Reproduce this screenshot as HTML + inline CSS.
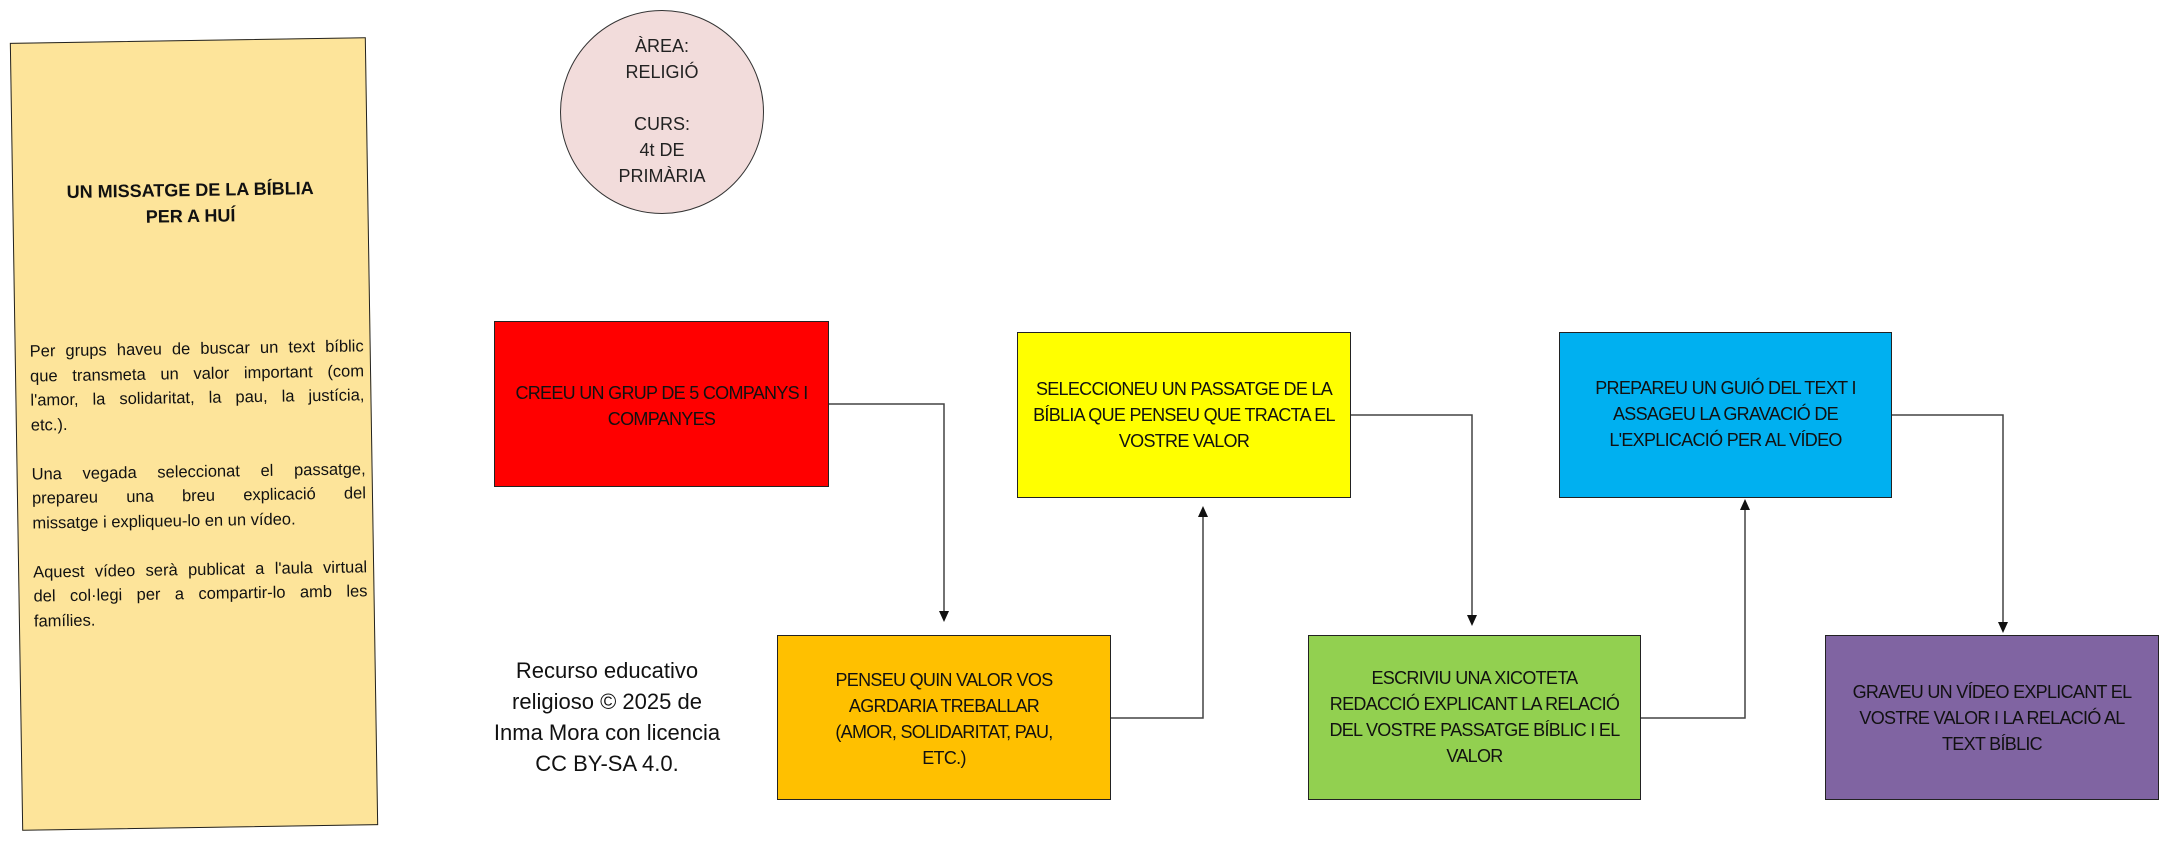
<!DOCTYPE html>
<html><head><meta charset="utf-8"><style>
body{margin:0;width:2168px;height:842px;background:#fff;position:relative;overflow:hidden;font-family:"Liberation Sans",sans-serif;}
.note{position:absolute;left:16px;top:40px;width:356px;height:788px;background:#fde49a;border:1.5px solid #222;transform:rotate(-0.9deg);box-sizing:border-box;}
.note .t{position:absolute;left:0;right:0;top:136px;text-align:center;font-weight:bold;font-size:18px;line-height:26px;color:#111;}
.note .b{position:absolute;left:14px;width:334px;font-size:16.5px;line-height:24.5px;color:#111;}
.j{text-align:justify;text-align-last:justify;white-space:nowrap;}
.circ{position:absolute;left:560px;top:10px;width:204px;height:204px;border-radius:50%;background:#f2dcdb;border:1.5px solid #333;box-sizing:border-box;text-align:center;font-size:18px;line-height:26px;color:#222;}
.box{position:absolute;box-sizing:border-box;border:1.5px solid #222;text-align:center;font-size:18px;letter-spacing:-0.7px;line-height:26px;color:#111;white-space:nowrap;}
.cred{position:absolute;left:487px;top:655px;width:240px;text-align:center;font-size:22px;line-height:31px;color:#111;}
</style></head><body>
<div class="note">
 <div class="t">UN MISSATGE DE LA BÍBLIA<br>PER A HUÍ</div>
 <div class="b" style="top:296px">
  <div class="j">Per grups haveu de buscar un text bíblic</div>
  <div class="j">que transmeta un valor important (com</div>
  <div class="j">l'amor, la solidaritat, la pau, la justícia,</div>
  <div>etc.).</div>
  <div style="height:24.5px"></div>
  <div class="j">Una vegada seleccionat el passatge,</div>
  <div class="j">prepareu una breu explicació del</div>
  <div>missatge i expliqueu-lo en un vídeo.</div>
  <div style="height:24.5px"></div>
  <div class="j">Aquest vídeo serà publicat a l'aula virtual</div>
  <div class="j">del col·legi per a compartir-lo amb les</div>
  <div>famílies.</div>
 </div>
</div>
<div class="circ"><div style="padding-top:22px">ÀREA:<br>RELIGIÓ<br><br>CURS:<br>4t DE<br>PRIMÀRIA</div></div>
<div class="cred">Recurso educativo religioso © 2025 de Inma Mora con licencia CC BY-SA 4.0.</div>

<div class="box" style="left:494px;top:321px;width:335px;height:166px;background:#ff0000;padding-top:58px">CREEU UN GRUP DE 5 COMPANYS I<br>COMPANYES</div>
<div class="box" style="left:1017px;top:332px;width:334px;height:166px;background:#ffff00;padding-top:43px">SELECCIONEU UN PASSATGE DE LA<br>BÍBLIA QUE PENSEU QUE TRACTA EL<br>VOSTRE VALOR</div>
<div class="box" style="left:1559px;top:332px;width:333px;height:166px;background:#00b0f0;padding-top:42px">PREPAREU UN GUIÓ DEL TEXT I<br>ASSAGEU LA GRAVACIÓ DE<br>L'EXPLICACIÓ PER AL VÍDEO</div>
<div class="box" style="left:777px;top:635px;width:334px;height:165px;background:#ffc000;padding-top:31px">PENSEU QUIN VALOR VOS<br>AGRDARIA TREBALLAR<br>(AMOR, SOLIDARITAT, PAU,<br>ETC.)</div>
<div class="box" style="left:1308px;top:635px;width:333px;height:165px;background:#92d050;padding-top:29px">ESCRIVIU UNA XICOTETA<br>REDACCIÓ EXPLICANT LA RELACIÓ<br>DEL VOSTRE PASSATGE BÍBLIC I EL<br>VALOR</div>
<div class="box" style="left:1825px;top:635px;width:334px;height:165px;background:#8064a2;padding-top:43px">GRAVEU UN VÍDEO EXPLICANT EL<br>VOSTRE VALOR I LA RELACIÓ AL<br>TEXT BÍBLIC</div>

<svg width="2168" height="842" style="position:absolute;left:0;top:0" xmlns="http://www.w3.org/2000/svg">
<g fill="none" stroke="#444" stroke-width="1.5">
<polyline points="829,404 944,404 944,612"/>
<polyline points="1111,718 1203,718 1203,515"/>
<polyline points="1351,415 1472,415 1472,616"/>
<polyline points="1641,718 1745,718 1745,508"/>
<polyline points="1892,415 2003,415 2003,623"/>
</g>
<g fill="#111">
<polygon points="939,611 949,611 944,622"/>
<polygon points="1198,517 1208,517 1203,506"/>
<polygon points="1467,615 1477,615 1472,626"/>
<polygon points="1740,510 1750,510 1745,499"/>
<polygon points="1998,622 2008,622 2003,633"/>
</g>
</svg>
</body></html>
